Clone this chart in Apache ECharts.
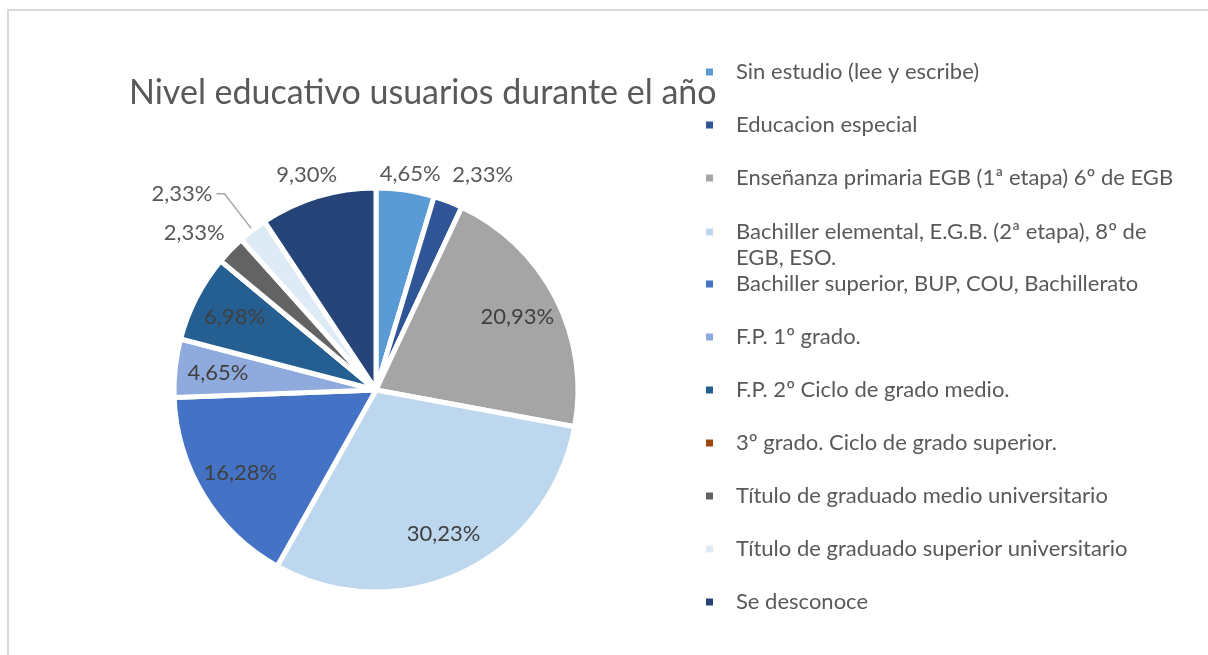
<!DOCTYPE html>
<html>
<head>
<meta charset="utf-8">
<title>Nivel educativo usuarios durante el año</title>
<script src="https://cdn.jsdelivr.net/npm/echarts@6/dist/echarts.min.js"></script>
<style>
  html, body { margin: 0; padding: 0; background: #fff; }
  #chart { width: 1208px; height: 655px; }
</style>
</head>
<body>
<div id="chart"></div>
<script>
// categorias y valores (porcentaje)
const categorias = [
    'Sin estudio (lee y escribe)',
    'Educacion especial',
    'Enseñanza primaria EGB (1ª etapa) 6º de EGB',
    'Bachiller elemental, E.G.B. (2ª etapa), 8º de EGB, ESO.',
    'Bachiller superior, BUP, COU, Bachillerato',
    'F.P. 1º grado.',
    'F.P. 2º Ciclo de grado medio.',
    '3º grado. Ciclo de grado superior.',
    'Título de graduado medio universitario',
    'Título de graduado superior universitario',
    'Se desconoce'
]
const porcentajes = [4.65, 2.33, 20.93, 30.23, 16.28, 4.65, 6.98, 0, 2.33, 2.33, 9.30]
const colores = ['#5B9BD5', '#2F5597', '#A5A5A5', '#BDD7EE', '#4472C4', '#8FAADC',
    '#255E91', '#9E480E', '#636363', '#DEEBF7', '#264478']
// etiquetas dentro del sector (las demas van fuera)
const etiquetasDentro = [2, 3, 4, 5, 6]

// guias de las etiquetas exteriores: [length, length2, visible]
const guias = {
    0: [16, -32, false],
    1: [28, -10, false],
    8: [25, -16, false],
    9: [46, 8, true],
    10: [23, -30, false]
}

const FUENTE = 'Lato, "Open Sans", sans-serif'
const GRIS = '#595959'

const chart = echarts.init(document.getElementById('chart'))

const fmt = v => v.toFixed(2).replace('.', ',') + '%'

// serie visible: sectores + etiquetas exteriores
const datosVisibles = categorias.map((name, i) => {
    const g = guias[i] || [4, 0, false]
    return {
        name,
        value: porcentajes[i],
        itemStyle: { color: colores[i] },
        label: { show: !!guias[i] && porcentajes[i] > 0 },
        labelLine: { show: g[2], length: g[0], length2: g[1] }
    }
})

// serie transparente para colocar etiquetas interiores mas cerca del borde
const datosEtiquetas = categorias.map((name, i) => ({
    name,
    value: porcentajes[i],
    label: { show: etiquetasDentro.indexOf(i) >= 0 }
}))

const leyendaBase = {
    orient: 'vertical',
    left: 704,
    padding: 0,
    itemWidth: 9,
    itemHeight: 9,
    itemGap: 27,
    icon: 'rect',
    selectedMode: false,
    textStyle: {
        color: GRIS,
        fontFamily: FUENTE,
        fontSize: 22,
        lineHeight: 26,
        padding: [0, 0, 0, 17]
    }
}

const option = {
    backgroundColor: '#fff',
    animation: false,
    title: {
        text: 'Nivel educativo usuarios durante el año',
        left: 124,
        top: 71,
        textStyle: { color: GRIS, fontFamily: FUENTE, fontSize: 34, fontWeight: 'normal' }
    },
    legend: [
        Object.assign({}, leyendaBase, { top: 59, data: categorias.slice(0, 3) }),
        Object.assign({}, leyendaBase, {
            top: 193,
            data: categorias.slice(3, 4),
            formatter: name => '\n' + name.replace('8º de ', '8º de\n')
        }),
        Object.assign({}, leyendaBase, { top: 271, data: categorias.slice(4) })
    ],
    graphic: [{
        type: 'rect',
        silent: true,
        shape: { x: 8, y: 10, width: 1300, height: 800 },
        style: { fill: 'none', stroke: '#D9D9D9', lineWidth: 2 }
    }],
    series: [
        {
            type: 'pie',
            center: [376, 390],
            radius: [0, 202],
            startAngle: 90,
            clockwise: true,
            avoidLabelOverlap: false,
            labelLayout: { hideOverlap: false },
            itemStyle: { borderColor: '#fff', borderWidth: 5 },
            label: {
                position: 'outside',
                distanceToLabelLine: 4,
                color: GRIS,
                fontFamily: FUENTE,
                fontSize: 22,
                formatter: p => fmt(p.value)
            },
            labelLine: { lineStyle: { color: '#A6A6A6', width: 1.5 } },
            emphasis: { disabled: true },
            data: datosVisibles
        },
        {
            type: 'pie',
            center: [376, 390],
            radius: [110, 202],
            startAngle: 90,
            clockwise: true,
            silent: true,
            avoidLabelOverlap: false,
            labelLayout: { hideOverlap: false },
            itemStyle: { color: 'rgba(0,0,0,0)' },
            label: {
                position: 'inside',
                color: '#404040',
                fontFamily: FUENTE,
                fontSize: 22,
                formatter: p => fmt(p.value)
            },
            labelLine: { show: false },
            emphasis: { disabled: true },
            data: datosEtiquetas
        }
    ]
}

chart.setOption(option)
</script>
</body>
</html>
